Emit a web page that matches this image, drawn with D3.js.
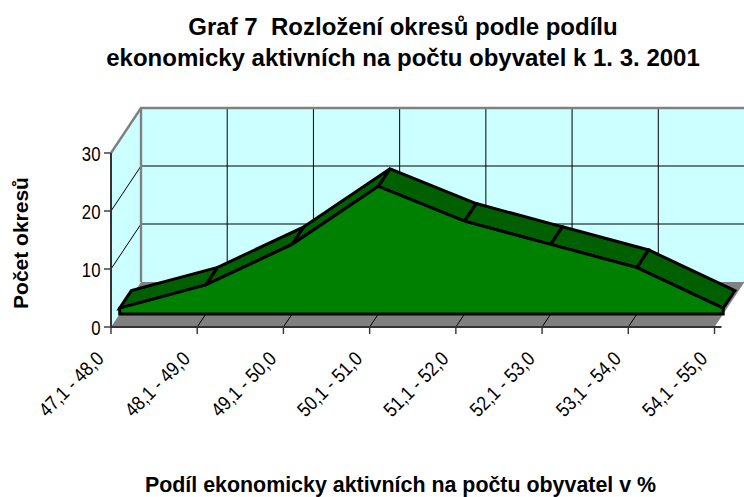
<!DOCTYPE html>
<html>
<head>
<meta charset="utf-8">
<script src="https://cdnjs.cloudflare.com/ajax/libs/d3/7.8.5/d3.min.js"></script>
<style>
html, body { margin: 0; padding: 0; background: #fff; }
svg { display: block; }
text { font-family: "Liberation Sans", Arial, sans-serif; fill: #000; white-space: pre; }
</style>
</head>
<body>
<div id="chart"></div>
<script>
const categories = ["47,1 - 48,0", "48,1 - 49,0", "49,1 - 50,0", "50,1 - 51,0", "51,1 - 52,0", "52,1 - 53,0", "53,1 - 54,0", "54,1 - 55,0"];
const counts = [1, 5, 12, 22, 16, 12, 8, 1];
const yTicks = [0, 10, 20, 30];
const titleLines = ["Graf 7  Rozložení okresů podle podílu", "ekonomicky aktivních na počtu obyvatel k 1. 3. 2001"];
const xTitle = "Podíl ekonomicky aktivních na počtu obyvatel v %";
const yTitle = "Počet okresů";

const width = 744, height = 497;
const svg = d3.select("#chart").append("svg").attr("width", width).attr("height", height);

const x = d3.scalePoint().domain(categories).range([111, 714.5]);
const y = d3.scaleLinear().domain([0, 30]).range([327, 153]);

// oblique depth of the 3d box, z = 0 is the front edge and z = 1 the back wall
const depthX = 30, depthY = -45;
const zFront = 0.29, zBack = 0.68;
const px = (c, z) => x(c) + z * depthX;
const py = (v, z) => y(v) + z * depthY;
const poly = pts => "M" + pts.map(p => p.join(",")).join("L") + "Z";

const first = categories[0], last = categories[categories.length - 1];

// walls and floor
svg.append("path").attr("fill", "#ccffff")
    .attr("d", poly([[px(first, 1), py(30, 1)], [px(last, 1), py(30, 1)], [px(last, 1), py(0, 1)], [px(first, 1), py(0, 1)]]));
svg.append("path").attr("fill", "#ccffff")
    .attr("d", poly([[px(first, 0), py(30, 0)], [px(first, 1), py(30, 1)], [px(first, 1), py(0, 1)], [px(first, 0), py(0, 0)]]));
svg.append("path").attr("fill", "#808080")
    .attr("d", poly([[px(first, 0), py(0, 0)], [px(first, 1), py(0, 1)], [px(last, 1), py(0, 1)], [px(last, 0), py(0, 0)]]));

// gridlines
const grid = svg.append("g").attr("stroke", "#000").attr("stroke-width", 1).attr("fill", "none");
yTicks.slice(1, 3).forEach(v => {
    grid.append("path").attr("d", d3.line()([[px(first, 0), py(v, 0)], [px(first, 1), py(v, 1)], [px(last, 1), py(v, 1)]]));
});
categories.slice(1, -1).forEach(c => {
    grid.append("path").attr("d", d3.line()([[px(c, 0), py(0, 0)], [px(c, 1), py(0, 1)], [px(c, 1), py(30, 1)]]));
});

// gray box edges
const edges = svg.append("g").attr("stroke", "#808080").attr("stroke-width", 2.4).attr("fill", "none");
edges.append("path").attr("d", d3.line()([[px(first, 0), py(30, 0)], [px(first, 1), py(30, 1)], [px(last, 1), py(30, 1)]]));
edges.append("path").attr("d", d3.line()([[px(first, 1), py(30, 1)], [px(first, 1), py(0, 1)]]));
svg.append("path").attr("stroke", "#808080").attr("stroke-width", 1).attr("fill", "none")
    .attr("d", d3.line()([[px(last, 1), py(30, 1)], [px(last, 1), py(0, 1)]]));

// area: top ribbon segments first, then the front face
const areaG = svg.append("g").attr("stroke", "#000").attr("stroke-width", 3).attr("stroke-linejoin", "miter");
d3.pairs(categories.map((c, i) => ({ c, v: counts[i] }))).forEach(([a, b]) => {
    areaG.append("path").attr("fill", "#006000")
        .attr("d", poly([[px(a.c, zFront), py(a.v, zFront)], [px(a.c, zBack), py(a.v, zBack)], [px(b.c, zBack), py(b.v, zBack)], [px(b.c, zFront), py(b.v, zFront)]]));
});
areaG.append("path").attr("fill", "#008000")
    .attr("d", poly([[px(first, zFront), py(0, zFront)]]
        .concat(categories.map((c, i) => [px(c, zFront), py(counts[i], zFront)]))
        .concat([[px(last, zFront), py(0, zFront)]])));

// axes
const axisStroke = "#333";
svg.append("path").attr("stroke", axisStroke).attr("stroke-width", 2).attr("fill", "none")
    .attr("d", d3.line()([[px(first, 0), py(30, 0)], [px(first, 0), py(0, 0)], [px(last, 0) + 7, py(0, 0)]]));
const yAxis = svg.append("g");
yTicks.forEach(v => {
    yAxis.append("line").attr("x1", 104).attr("x2", x(first)).attr("y1", y(v)).attr("y2", y(v)).attr("stroke", axisStroke).attr("stroke-width", 1.4);
    yAxis.append("text").attr("text-anchor", "end").style("font-size", "20px")
        .attr("transform", `translate(100.5,${y(v) + 7.5}) scale(0.84,1)`).text(v);
});
const xAxis = svg.append("g");
categories.forEach(c => {
    xAxis.append("line").attr("x1", x(c)).attr("x2", x(c)).attr("y1", y(0)).attr("y2", y(0) + 7).attr("stroke", axisStroke).attr("stroke-width", 1.4);
    xAxis.append("text").attr("text-anchor", "end").style("font-size", "20px")
        .attr("transform", `translate(${x(c) - 6},${y(0) + 33}) rotate(-45) scale(0.86,1)`).text(c);
});

// titles
titleLines.forEach((t, i) => {
    svg.append("text").attr("x", 403).attr("y", 35 + i * 31).attr("text-anchor", "middle")
        .style("font-size", "24px").style("font-weight", "700").text(t);
});
svg.append("text").attr("x", 400.5).attr("y", 491.5).attr("text-anchor", "middle")
    .style("font-size", "21.4px").style("font-weight", "700").text(xTitle);
svg.append("text").attr("transform", "translate(27.5,243) rotate(-90)").attr("text-anchor", "middle")
    .style("font-size", "21px").style("font-weight", "700").text(yTitle);
</script>
</body>
</html>
